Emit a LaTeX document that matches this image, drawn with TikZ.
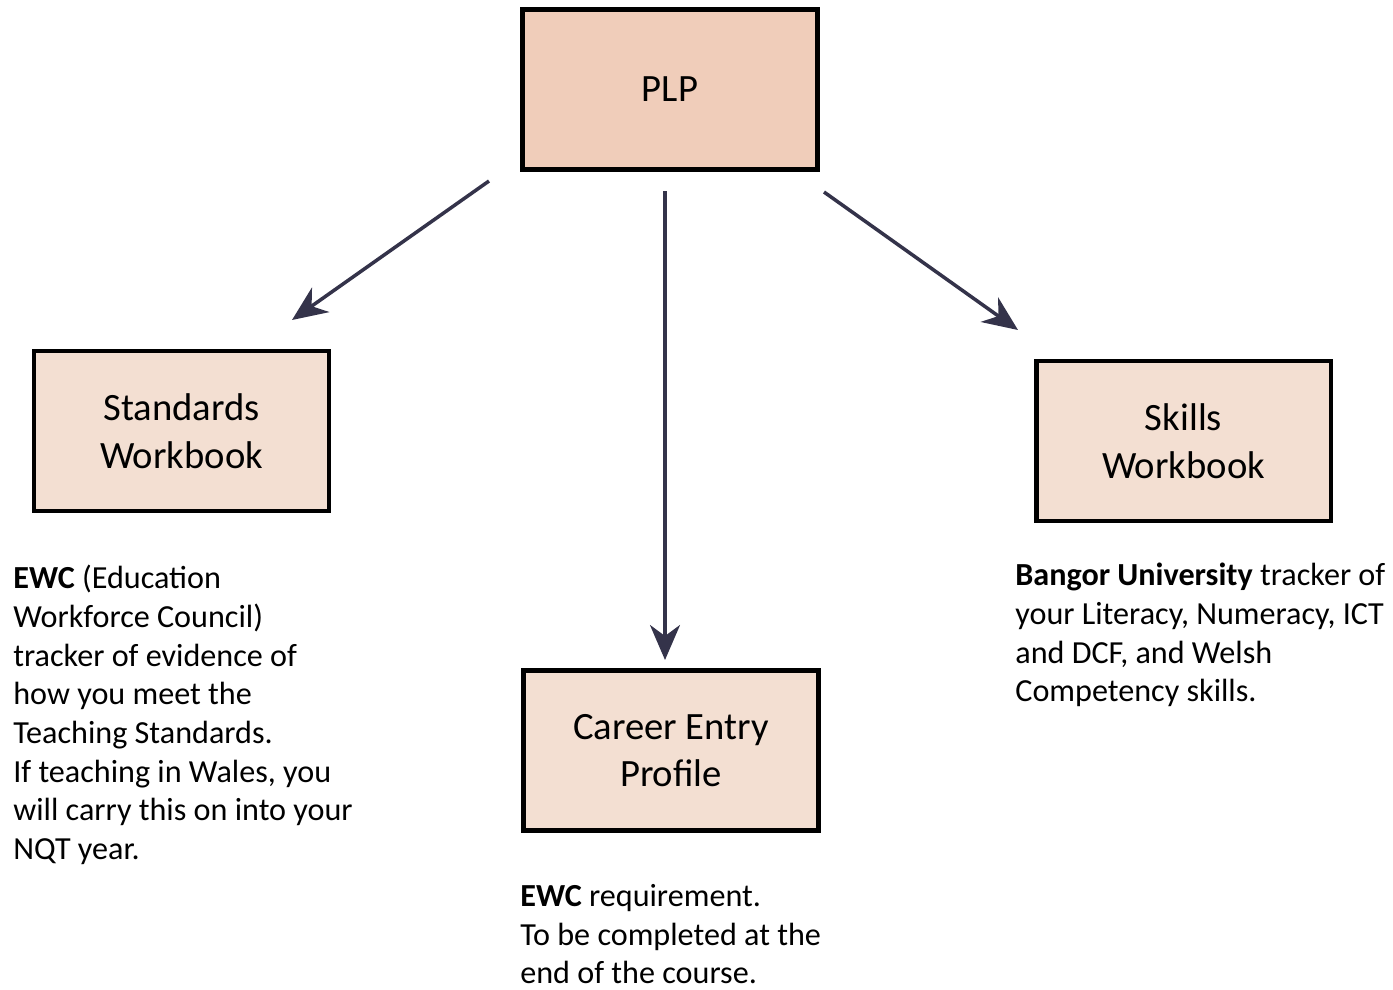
\documentclass[tikz,border=0pt]{standalone}
\usepackage{fontspec}
\setmainfont{Carlito}
\usetikzlibrary{arrows.meta}
\definecolor{plpfill}{HTML}{F0CDBA}
\definecolor{bookfill}{HTML}{F3DFD2}
\definecolor{arrowcol}{HTML}{34334A}

\begin{document}
\begin{tikzpicture}[x = 0.02cm, y = -0.02cm,
    box/.style = {draw = black, line width = 2.8pt, fill = bookfill,
        minimum width = 5.9cm, minimum height = 3.2cm, align = center,
        font = \fontsize{22}{27}\selectfont},
    note/.style = {anchor = north west, inner sep = 0pt, align = left,
        font = \fontsize{18.3}{22}\selectfont},
    link/.style = {-{Stealth[length = 7mm, width = 6mm, inset = 2.2mm]},
        arrowcol, line width = 2pt}]
    \useasboundingbox (0,0) rectangle (1393,990);
    % boxes
    \node[box, fill = plpfill] (plp) at (670,89.5) {PLP};
    \node[box] (standards) at (181.5,431) {Standards\\Workbook};
    \node[box] (skills) at (1183.5,441) {Skills\\Workbook};
    \node[box] (career) at (671,750.5) {Career Entry\\Profile};
    % free ends of the arrows
    \coordinate (sA) at (489,181);
    \coordinate (eA) at (292,320);
    \coordinate (sB) at (665,191);
    \coordinate (eB) at (665,660);
    \coordinate (sC) at (824,192);
    \coordinate (eC) at (1018,330);
    \draw[link] (sA) -- (eA);
    \draw[link] (sB) -- (eB);
    \draw[link] (sC) -- (eC);
    % notes under the boxes
    \node[note] (stdnote) at (13,565) {\textbf{EWC} (Education\\Workforce Council)\\tracker of evidence of\\how you meet the\\Teaching Standards.\\If teaching in Wales, you\\will carry this on into your\\NQT year.};
    \node[note] (sklnote) at (1015,563) {\textbf{Bangor University} tracker of\\your Literacy, Numeracy, ICT\\and DCF, and Welsh\\Competency skills.};
    \node[note] (cepnote) at (520,884) {\textbf{EWC} requirement.\\To be completed at the\\end of the course.};
\end{tikzpicture}
\end{document}
